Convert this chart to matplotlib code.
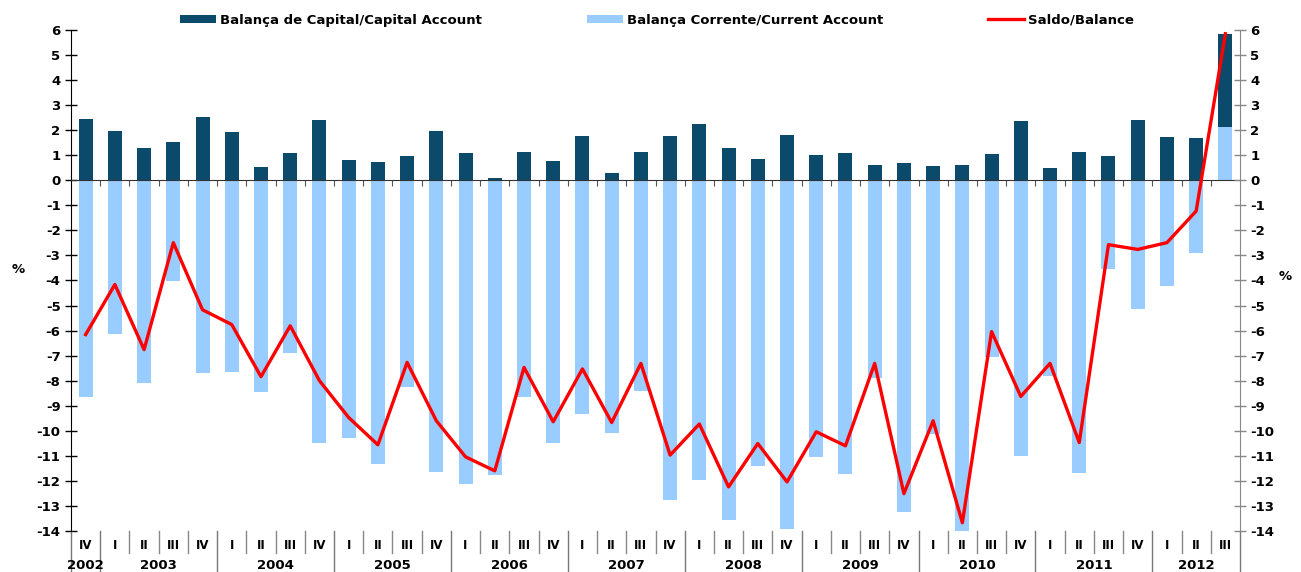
import numpy as np
import matplotlib
matplotlib.use('Agg')
import matplotlib.pyplot as plt
import matplotlib.transforms as mtransforms

# trimestres 2002 IV .. 2012 III
quarters = ['IV'] + ['I', 'II', 'III', 'IV'] * 9 + ['I', 'II', 'III']
years = ['2002', '2003', '2004', '2005', '2006', '2007', '2008', '2009', '2010', '2011', '2012']
year_len = [1, 4, 4, 4, 4, 4, 4, 4, 4, 4, 3]

capital = [2.45, 1.98, 1.27, 1.52, 2.52, 1.91, 0.53, 1.07, 2.41, 0.80,
           0.71, 0.96, 1.95, 1.07, 0.09, 1.13, 0.77, 1.75, 0.31, 1.11,
           1.77, 2.24, 1.28, 0.84, 1.81, 0.99, 1.07, 0.60, 0.67, 0.57,
           0.61, 1.03, 2.35, 0.49, 1.13, 0.96, 2.41, 1.71, 1.67, 3.70]

current = [-8.64, -6.13, -8.08, -4.03, -7.71, -7.67, -8.47, -6.88, -10.47, -10.29,
           -11.32, -8.24, -11.63, -12.13, -11.75, -8.64, -10.49, -9.32, -10.07, -8.43,
           -12.77, -11.96, -13.56, -11.40, -13.91, -11.04, -11.71, -7.89, -13.24, -10.13,
           -14.25, -7.07, -11.00, -7.83, -11.67, -3.53, -5.13, -4.23, -2.89, 2.13]

saldo = [-6.16, -4.16, -6.76, -2.49, -5.17, -5.76, -7.84, -5.81, -8.00, -9.47,
         -10.56, -7.27, -9.60, -11.04, -11.60, -7.47, -9.64, -7.53, -9.67, -7.31,
         -10.97, -9.73, -12.24, -10.51, -12.04, -10.04, -10.60, -7.31, -12.51, -9.60,
         -13.67, -6.04, -8.63, -7.31, -10.47, -2.57, -2.76, -2.49, -1.23, 5.85]

plt.rcParams['font.family'] = 'DejaVu Sans'
plt.rcParams['font.weight'] = 'bold'
plt.rcParams['axes.unicode_minus'] = False

dark = '#0B4A6A'
light = '#99CCFF'
red = '#FF0000'

fig = plt.figure(figsize=(13.01, 5.72), dpi=100)
ax = fig.add_axes([0.0546, 0.0717, 0.8985, 0.8759])

x = np.arange(len(quarters))
bottom_cap = np.maximum(np.array(current), 0)

b_cur = ax.bar(x, current, width=0.48, color=light, zorder=2)
b_cap = ax.bar(x, capital, width=0.48, bottom=bottom_cap, color=dark, zorder=2)
l_sal, = ax.plot(x, saldo, color=red, linewidth=2.4, zorder=4)

ax.set_xlim(-0.5, len(x) - 0.5)
ax.set_ylim(-14, 6)
ax.set_yticks(range(-14, 7))
ax.tick_params(axis='y', direction='inout', length=9, width=1, labelsize=9.5, pad=3)

# eixo horizontal no zero
ax.spines['bottom'].set_position(('data', 0))
ax.spines['bottom'].set_zorder(3)
ax.spines['bottom'].set_color('#333333')
ax.spines['top'].set_visible(False)
ax.spines['right'].set_visible(False)
ax.set_xticks(np.arange(0.5, len(x) - 1, 1))
ax.set_xticklabels([])
ax.tick_params(axis='x', direction='out', length=4, color='#555555')

ax2 = ax.twinx()
ax2.set_ylim(-14, 6)
ax2.set_yticks(range(-14, 7))
for s in ['top', 'left', 'bottom']:
    ax2.spines[s].set_visible(False)
ax2.spines['right'].set_color('#888888')
ax2.tick_params(axis='y', direction='inout', length=9, width=1, color='#888888',
                labelsize=9.5, pad=3)

# rótulos das categorias
trans = mtransforms.blended_transform_factory(ax.transData, ax.transAxes)
for i, q in enumerate(quarters):
    ax.text(i, -0.028, q, transform=trans, ha='center', va='center', fontsize=8.5)

starts = np.cumsum([0] + year_len)
for k, y in enumerate(years):
    mid = (starts[k] + starts[k + 1] - 1) / 2
    ax.text(mid, -0.068, y, transform=trans, ha='center', va='center', fontsize=9.5)

year_bounds = set(b - 0.5 for b in starts)
for b in np.arange(-0.5, len(x), 1):
    if b in year_bounds:
        ax.plot([b, b], [0, -0.1], transform=trans, color='#777777', lw=1, clip_on=False)
    else:
        ax.plot([b, b], [0, -0.044], transform=trans, color='#888888', lw=1, clip_on=False)

fig.text(0.014, 0.528, '%', fontsize=9.5, ha='center', va='center')
fig.text(0.988, 0.516, '%', fontsize=9.5, ha='center', va='center')

ax.legend([b_cap, b_cur, l_sal],
          ['Balança de Capital/Capital Account', 'Balança Corrente/Current Account', 'Saldo/Balance'],
          ncol=3, frameon=False, loc='center', bbox_to_anchor=(0.505, 0.965),
          bbox_transform=fig.transFigure, fontsize=9.5, handlelength=2.7,
          handleheight=0.5, handletextpad=0.3, columnspacing=8.0)

fig.savefig('out.png', dpi=100)
